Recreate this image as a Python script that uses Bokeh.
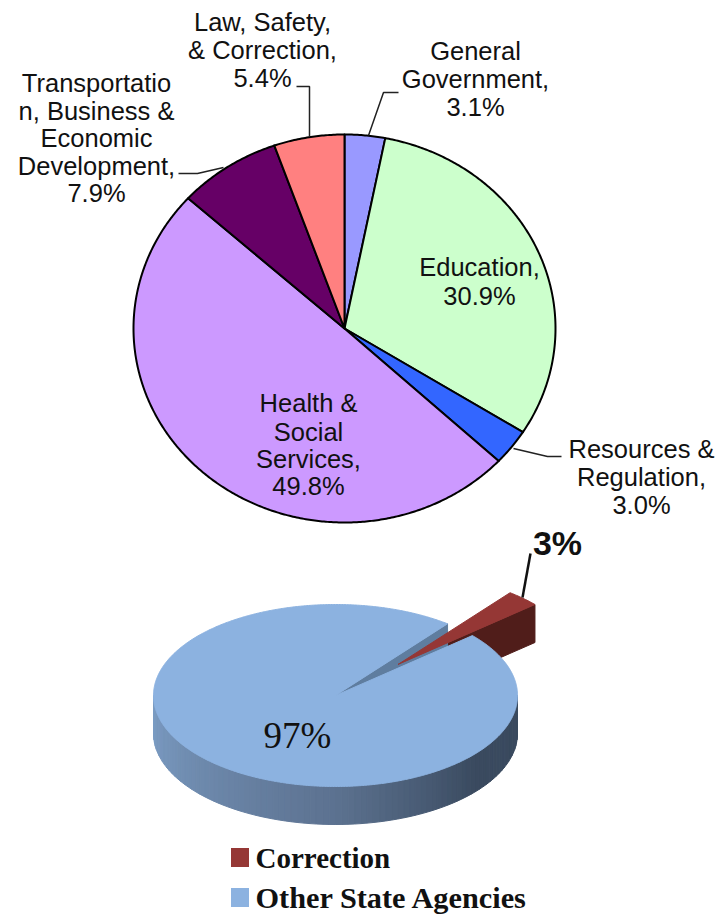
import math
from bokeh.plotting import figure
from bokeh.models import Range1d
from bokeh.core.properties import value
from bokeh.embed import file_html
from bokeh.resources import INLINE

# ---- data ----
budget_categories = ["General Government", "Education", "Resources & Regulation",
                     "Health & Social Services", "Transportation, Business & Economic Development",
                     "Law, Safety, & Correction"]
budget_values = [3.1, 30.9, 3.0, 49.8, 7.9, 5.4]
share_categories = ["Correction", "Other State Agencies"]
share_values = [3, 97]

# ---- styles / layout ----
budget_colors = ["#9999ff", "#ccffcc", "#3366ff", "#cc99ff", "#660066", "#ff8080"]
RED, RED_DARK, BLUE, WALL = "#953735", "#501d1a", "#8cb2e0", "#5f7d9f"
CX, CY, RX, RY = 344, 328, 211, 194
CX2, CY2, RX2, RY2, DEPTH = 335, 695, 182, 91, 38
START2 = 52.0           # angle of the upper edge of the correction slice
EXPLODE = 0.50

p = figure(width=720, height=917, output_backend="svg", toolbar_location=None,
           x_range=Range1d(0, 720), y_range=Range1d(917, 0), min_border=0,
           outline_line_color=None)
p.axis.visible = False
p.grid.visible = False


def arc(cx, cy, rx, ry, a0, a1, n=None):
    """Points on an ellipse; angles in degrees, counter-clockwise, 0 = east."""
    n = n or max(2, int(abs(a1 - a0)) * 2)
    pts = [a0 + (a1 - a0) * i / n for i in range(n + 1)]
    return ([cx + rx * math.cos(math.radians(a)) for a in pts],
            [cy - ry * math.sin(math.radians(a)) for a in pts])


# ---- upper pie, clockwise from 12 o'clock ----
xs, ys = [], []
acc = 0.0
total = sum(budget_values)
for v in budget_values:
    a0 = 90 - acc / total * 360
    acc += v
    a1 = 90 - acc / total * 360
    ax, ay = arc(CX, CY, RX, RY, a0, a1)
    xs.append([CX] + ax)
    ys.append([CY] + ay)
p.patches(xs, ys, fill_color=budget_colors, line_color="#000000", line_width=2, line_join="round")

# leader lines of the upper pie
leader_x = [[296, 309, 309], [398, 383, 368], [178, 197, 223], [513, 547, 561]]
leader_y = [[86, 86, 136], [92, 92, 135], [173, 173, 167], [448, 456, 456]]
p.multi_line(leader_x, leader_y, line_color="#222222", line_width=1.5)

# labels of the upper pie
label_lines = ["Law, Safety,", "& Correction,", "5.4%",
               "General", "Government,", "3.1%",
               "Transportatio", "n, Business &", "Economic", "Development,", "7.9%",
               "Education,", "30.9%",
               "Health &", "Social", "Services,", "49.8%",
               "Resources &", "Regulation,", "3.0%"]
label_x = [262, 262, 262, 475, 475, 475, 96, 96, 96, 96, 96, 479, 479,
           308, 308, 308, 308, 641, 641, 641]
label_y = [21, 49, 77, 50, 78, 106, 82, 110, 137, 165, 192, 266, 295,
           402, 431, 458, 485, 448, 476, 504]
p.text(label_x, label_y, text=label_lines, text_font=value("Liberation Sans"),
       text_font_size="25.5px", text_align="center", text_baseline="middle", text_color="#111111")

# ---- lower 3-D pie ----
corr, other = share_values
sweep = corr / sum(share_values) * 360
A_HI, A_LO = START2, START2 - sweep
mid = math.radians((A_HI + A_LO) / 2)
ex = CX2 + EXPLODE * RX2 * math.cos(mid)
ey = CY2 - EXPLODE * RY2 * math.sin(mid) + 2

# dark side of the exploded correction slice
ox, oy = arc(ex, ey, RX2, RY2, A_LO, A_LO, 1)
p.patch([ex, ox[0], ox[0], ex], [ey, oy[0], oy[0] + DEPTH, ey + DEPTH],
        fill_color=RED_DARK, line_color=RED_DARK)

# inner wall seen through the gap
wx, wy = arc(CX2, CY2, RX2, RY2, A_HI, A_HI, 1)
p.patch([CX2, wx[0], wx[0], CX2], [CY2, wy[0], wy[0] + DEPTH, CY2 + DEPTH],
        fill_color=WALL, line_color=WALL)

# shaded rim of the big slice, left to right
STOPS = [(180, (0x7d, 0x9e, 0xc6)), (270, (0x5c, 0x72, 0x90)), (320, (0x3a, 0x4a, 0x5f)), (360, (0x3a, 0x4a, 0x5f))]


def shade(a):
    for (a0, c0), (a1, c1) in zip(STOPS, STOPS[1:]):
        if a <= a1:
            f = (a - a0) / (a1 - a0)
            return "#%02x%02x%02x" % tuple(round(u + (w - u) * f) for u, w in zip(c0, c1))
    return "#3a4a5f"


rim_x, rim_y, rim_c = [], [], []
for k in range(90):
    a0, a1 = 180 + 2 * k, 182 + 2 * k
    tx, ty = arc(CX2, CY2, RX2, RY2, a0, a1, 1)
    rim_x.append([tx[0], tx[1], tx[1], tx[0]])
    rim_y.append([ty[0], ty[1], ty[1] + DEPTH, ty[0] + DEPTH])
    rim_c.append(shade(a0 + 1))
p.patches(rim_x, rim_y, fill_color=rim_c, line_color=rim_c, line_width=1)

# top of the big slice
bx, by = arc(CX2, CY2, RX2, RY2, A_HI, A_LO + 360)
p.patch([CX2] + bx, [CY2] + by, fill_color=BLUE, line_color=BLUE, line_width=1)

# top of the exploded slice
rx_, ry_ = arc(ex, ey, RX2, RY2, A_HI, A_LO)
p.patch([ex] + rx_, [ey] + ry_, fill_color=RED, line_color=RED, line_width=1)

# 3% leader and labels
p.line([522, 530], [597, 553], line_color="#111111", line_width=2.5)
p.text([557], [542], text=["%d%%" % corr], text_font=value("Liberation Sans"), text_font_style="bold",
       text_font_size="34px", text_align="center", text_baseline="middle", text_color="#111111")
p.text([297], [735], text=["%d%%" % other], text_font=value("Liberation Serif"),
       text_font_size="37px", text_align="center", text_baseline="middle", text_color="#111111")

# legend
legend_y = [857, 897]
legend_colors = [RED, BLUE]
p.rect([239.5, 239.5], legend_y, width=18, height=19, fill_color=legend_colors, line_color=None)
p.text([255], [legend_y[0]], text=[share_categories[0]], text_font=value("Liberation Serif"), text_font_style="bold",
       text_font_size="29px", text_align="left", text_baseline="middle", text_color="#111111")
p.text([255], [legend_y[1]], text=[share_categories[1]], text_font=value("Liberation Serif"), text_font_style="bold",
       text_font_size="30.3px", text_align="left", text_baseline="middle", text_color="#111111")

open("out.html", "w").write(file_html(p, INLINE))
